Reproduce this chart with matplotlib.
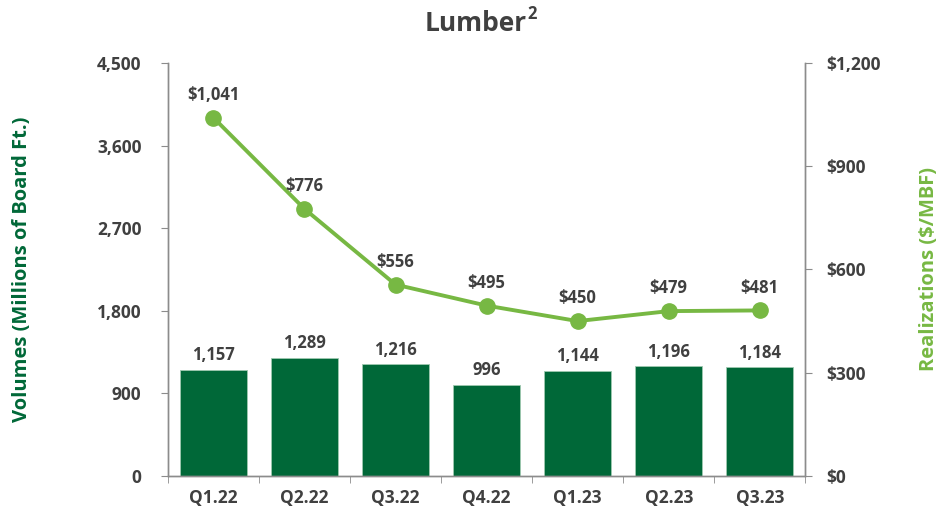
import matplotlib.pyplot as plt
import numpy as np
from matplotlib.ticker import FuncFormatter

quarters = ["Q1.22", "Q2.22", "Q3.22", "Q4.22", "Q1.23", "Q2.23", "Q3.23"]
volumes = [1157, 1289, 1216, 996, 1144, 1196, 1184]
realizations = [1041, 776, 556, 495, 450, 479, 481]

dark_green = "#006838"
light_green = "#77B843"
text_gray = "#404040"
axis_gray = "#8c8c8c"

plt.rcParams["font.family"] = ["Open Sans", "DejaVu Sans"]
plt.rcParams["font.weight"] = "bold"

fig = plt.figure(figsize=(9.43, 5.17), dpi=100)
ax = fig.add_axes([0.178, 0.0793, 0.676, 0.799])
ax2 = ax.twinx()

x = np.arange(len(quarters))
ax.bar(x, volumes, width=0.74, color=dark_green, edgecolor="#9fc9b0", linewidth=0.6, zorder=2)
for xi, v in zip(x, volumes):
    ax.annotate(f"{v:,}", (xi, v), xytext=(0, 4), textcoords="offset points",
                ha="center", va="bottom", fontsize=12, fontweight="bold", color=text_gray)

ax2.plot(x, realizations, color=light_green, lw=2.8, marker="o", ms=11, zorder=3)
for xi, v in zip(x, realizations):
    ax2.annotate(f"${v:,}", (xi, v), xytext=(0, 10), textcoords="offset points",
                 ha="center", va="bottom", fontsize=12, fontweight="bold", color=text_gray)

ax.set_xlim(-0.5, len(quarters) - 0.5)
ax.set_ylim(0, 4500)
ax.set_yticks(np.arange(0, 4501, 900))
ax.yaxis.set_major_formatter(FuncFormatter(lambda v, p: f"{int(v):,}"))
ax2.set_ylim(0, 1200)
ax2.set_yticks(np.arange(0, 1201, 300))
ax2.yaxis.set_major_formatter(FuncFormatter(lambda v, p: f"${int(v):,}"))

ax.set_xticks(x)
ax.set_xticklabels(quarters)
ax.set_xticks(np.arange(-0.5, len(quarters), 1), minor=True)
ax.tick_params(axis="x", which="major", length=0, pad=9, labelsize=12.5, labelcolor=text_gray)
ax.tick_params(axis="x", which="minor", length=5, color=axis_gray, direction="out")
ax.tick_params(axis="y", length=5, color=axis_gray, labelsize=12.5, labelcolor=text_gray, pad=14)
ax2.tick_params(axis="y", length=5, color=axis_gray, labelsize=12.5, labelcolor=text_gray, pad=10)

for a in (ax, ax2):
    a.spines["top"].set_visible(False)
    for s in ("left", "right", "bottom"):
        a.spines[s].set_color(axis_gray)
        a.spines[s].set_linewidth(1)

ax.set_ylabel("Volumes (Millions of Board Ft.)", color=dark_green, fontsize=14.5,
              fontweight="bold")
ax.yaxis.set_label_coords(-0.2135, 0.5)
ax2.set_ylabel("Realizations ($/MBF)", color=light_green, fontsize=14.5,
               fontweight="bold", rotation=90)
ax2.yaxis.set_label_coords(1.178, 0.5)

fig.text(0.5045, 0.955, "Lumber", ha="center", va="center",
         fontsize=19, fontweight="bold", color=text_gray)
fig.text(0.559, 0.972, "2", ha="left", va="center",
         fontsize=12, fontweight="bold", color=text_gray)

fig.savefig("out.png", dpi=100)
